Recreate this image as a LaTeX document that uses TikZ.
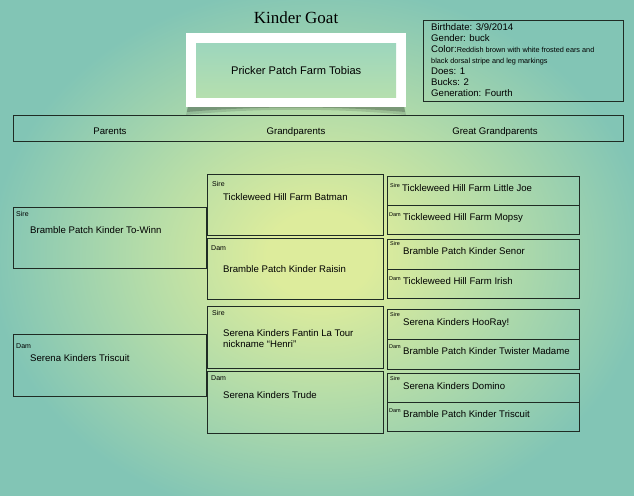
\documentclass[tikz,border=0pt]{standalone}
\usepackage{fontspec}
\setmainfont{Liberation Sans}
\newfontfamily\titlefont{Liberation Serif}
\definecolor{bgc}{HTML}{DDEC9C}
\definecolor{bgm}{HTML}{B6DDA8}
\definecolor{bgo}{HTML}{82C5B5}
\definecolor{frame}{HTML}{1F2B24}
\definecolor{tobtop}{HTML}{9DD6BD}
\definecolor{tobbot}{HTML}{B5DFAE}
\pgfdeclareradialshading{bgshade}{\pgfpoint{0bp}{0bp}}{color(0bp)=(bgc); color(4bp)=(bgc); color(13bp)=(bgm); color(25bp)=(bgo); color(50bp)=(bgo)}
\begin{document}
\begin{tikzpicture}[x=1pt,y=-1pt,
  frm/.style={draw=frame, line width=1.1pt, inner sep=0pt, anchor=north west},
  nm/.style={font=\fontsize{9.6}{11.5}\selectfont, inner sep=0pt, anchor=west, text height=0.72em, text depth=0pt},
  sml/.style={font=\fontsize{7}{8}\selectfont, inner sep=0pt, anchor=west, text height=0.72em, text depth=0pt},
  ggl/.style={font=\fontsize{5.5}{6}\selectfont, inner sep=0pt, anchor=west, text height=0.72em, text depth=0pt}]
\useasboundingbox (0,0) rectangle (634,495);
\fill[bgo] (0,0) rectangle (634,495);
\begin{scope}
\clip (0,0) rectangle (634,495);
\shade[shading=bgshade] (-10,-15) rectangle (650,525);
\end{scope}

% title
\node[font=\titlefont\fontsize{17}{20}\selectfont, inner sep=0pt] (title) at (296,18) {Kinder Goat};

% main animal box with curled shadow
\fill[black, opacity=0.12] (189,100) -- (403,100) -- (406,115) .. controls (340,108) and (252,108) .. (186,115) -- cycle;
\fill[black, opacity=0.2] (189,100) -- (403,100) -- (405,112) .. controls (340,106) and (252,106) .. (187,112) -- cycle;
\node[anchor=north west, fill=white, inner sep=0pt, minimum width=220, minimum height=74] (mainw) at (186,33) {};
\node[anchor=north west, inner sep=0pt, minimum width=200, minimum height=54,
  top color=tobtop, bottom color=tobbot] (main) at (196,43) {};
\node[font=\fontsize{11.1}{13}\selectfont, inner sep=0pt] (mainn) at (main.center) {Pricker Patch Farm Tobias};

% info box
\node[frm, minimum width=200, minimum height=81] (info) at (423,20) {};
\node[anchor=north west, inner sep=0pt, align=left, font=\fontsize{9.6}{11}\selectfont] (infot) at (431,23)
 {Birthdate: 3/9/2014\\
  Gender: buck\\
  Color:{\fontsize{7.3}{11}\selectfont Reddish brown with white frosted ears and}\\
  {\fontsize{7.3}{11}\selectfont black dorsal stripe and leg markings}\\
  Does: 1\\
  Bucks: 2\\
  Generation: Fourth};

% header
\node[frm, minimum width=610, minimum height=26] (hdr) at (13,115) {};
\node[nm, anchor=center] (h1) at (110,131) {Parents};
\node[nm, anchor=center] (h2) at (296,131) {Grandparents};
\node[nm, anchor=center] (h3) at (495,131) {Great Grandparents};

% parents
\node[frm, minimum width=193, minimum height=61] (p1) at (13,207) {};
\node[sml] (p1s) at (16,213) {Sire};
\node[nm] (p1n) at (30,230) {Bramble Patch Kinder To-Winn};
\node[frm, minimum width=193, minimum height=62] (p2) at (13,334) {};
\node[sml] (p2s) at (16,345) {Dam};
\node[nm] (p2n) at (30,358) {Serena Kinders Triscuit};

% grandparents
\node[frm, minimum width=176, minimum height=61] (g1) at (207,174) {};
\node[sml] (g1s) at (212,183) {Sire};
\node[nm] (g1n) at (223,197) {Tickleweed Hill Farm Batman};
\node[frm, minimum width=176, minimum height=61] (g2) at (207,238) {};
\node[sml] (g2s) at (211,247) {Dam};
\node[nm] (g2n) at (223,269) {Bramble Patch Kinder Raisin};
\node[frm, minimum width=176, minimum height=62] (g3) at (207,306) {};
\node[sml] (g3s) at (212,312) {Sire};
\node[nm, align=left] (g3n) at (223,344) {Serena Kinders Fantin La Tour\\nickname “Henri”};
\node[frm, minimum width=176, minimum height=62] (g4) at (207,371) {};
\node[sml] (g4s) at (211,377) {Dam};
\node[nm] (g4n) at (223,395) {Serena Kinders Trude};

% great grandparents
\node[frm, minimum width=192, minimum height=29] (a) at (387,176) {};
\node[ggl] (as) at (390,184) {Sire};
\node[nm] (an) at (402,188) {Tickleweed Hill Farm Little Joe};
\node[frm, minimum width=192, minimum height=29] (b) at (387,205) {};
\node[ggl] (bs) at (389,213) {Dam};
\node[nm] (bn) at (403,217) {Tickleweed Hill Farm Mopsy};
\node[frm, minimum width=192, minimum height=30] (c) at (387,239) {};
\node[ggl] (cs) at (390,242) {Sire};
\node[nm] (cn) at (403,251) {Bramble Patch Kinder Senor};
\node[frm, minimum width=192, minimum height=29] (d) at (387,269) {};
\node[ggl] (ds) at (389,277) {Dam};
\node[nm] (dn) at (403,281) {Tickleweed Hill Farm Irish};
\node[frm, minimum width=192, minimum height=30] (e) at (387,309) {};
\node[ggl] (es) at (390,313) {Sire};
\node[nm] (en) at (403,322) {Serena Kinders HooRay!};
\node[frm, minimum width=192, minimum height=30] (f) at (387,339) {};
\node[ggl] (fs) at (389,345) {Dam};
\node[nm] (fn) at (403,351) {Bramble Patch Kinder Twister Madame};
\node[frm, minimum width=192, minimum height=29] (g) at (387,373) {};
\node[ggl] (gs) at (390,377) {Sire};
\node[nm] (gn) at (403,386) {Serena Kinders Domino};
\node[frm, minimum width=192, minimum height=29] (h) at (387,402) {};
\node[ggl] (hs) at (389,409) {Dam};
\node[nm] (hn) at (403,414) {Bramble Patch Kinder Triscuit};
\end{tikzpicture}
\end{document}
